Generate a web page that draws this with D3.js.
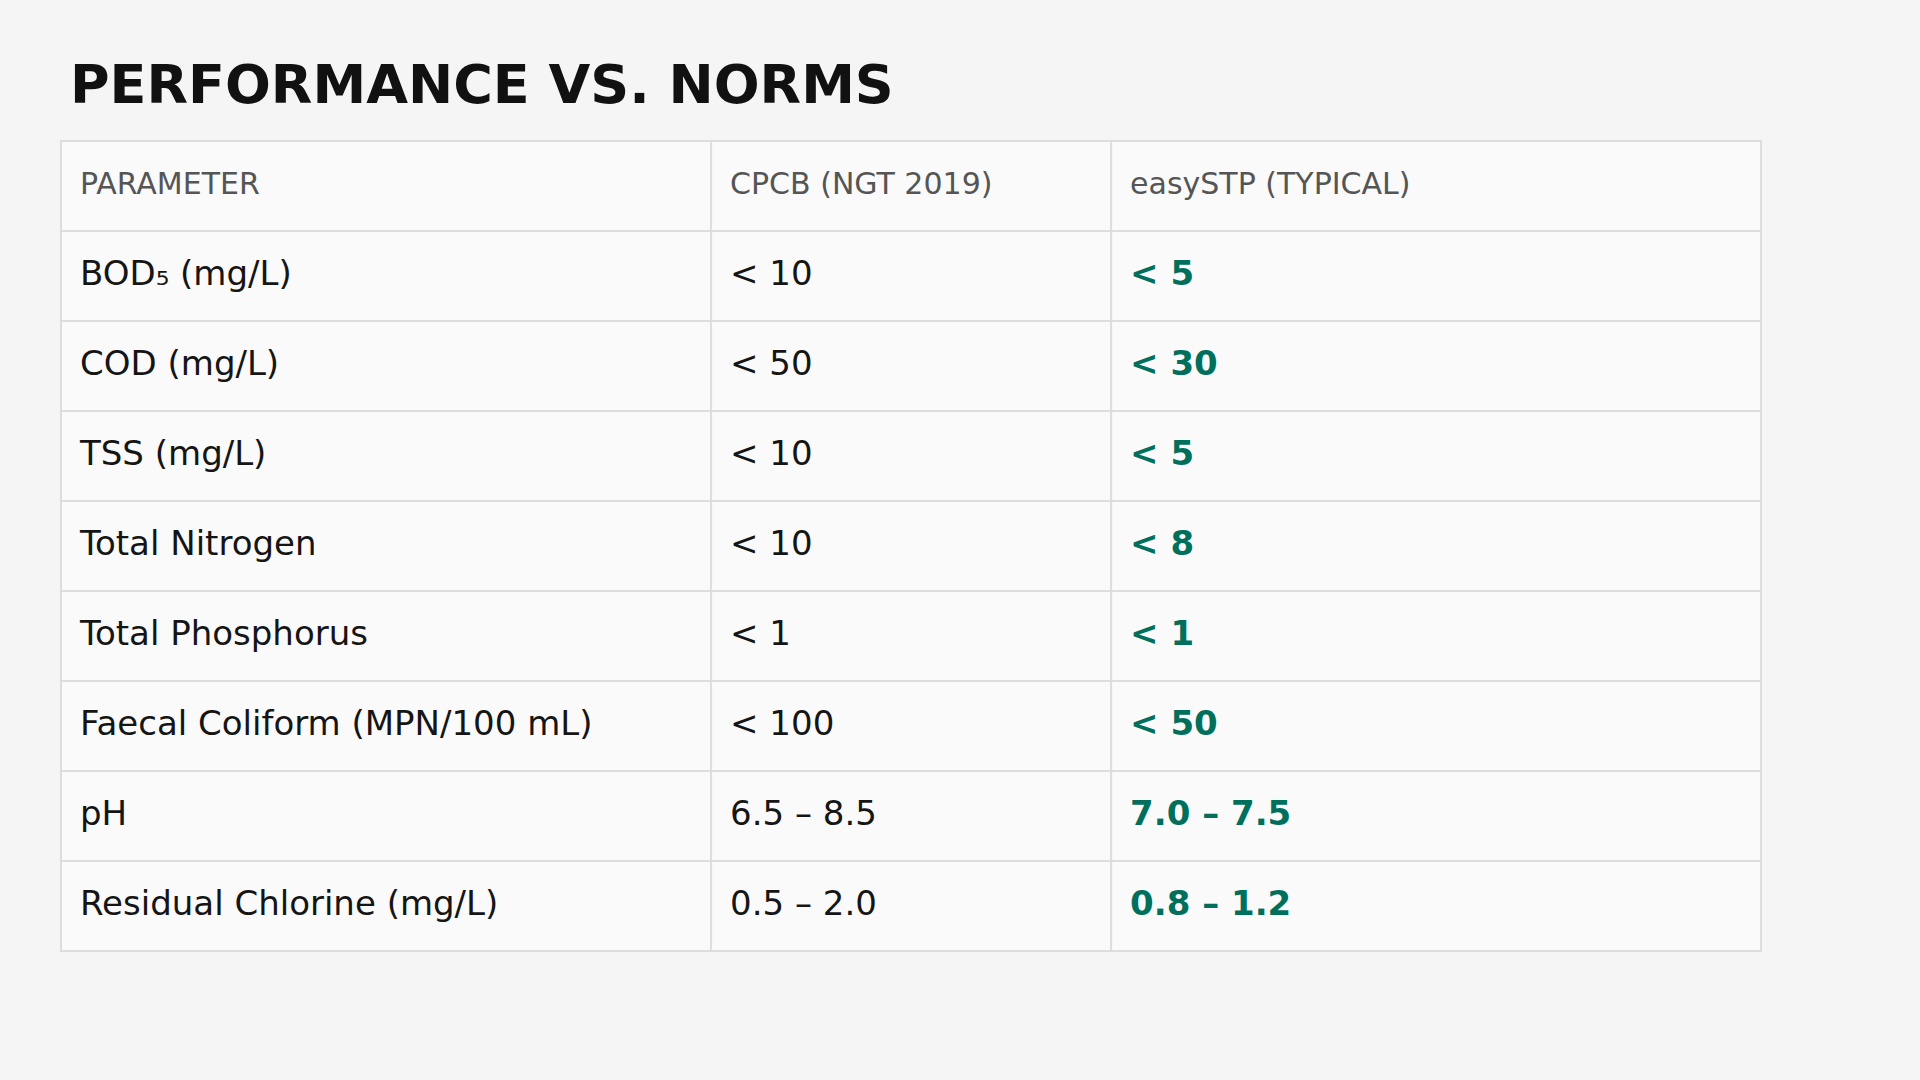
<!DOCTYPE html>
<html>
<head>
<meta charset="utf-8">
<script src="https://cdn.jsdelivr.net/npm/d3@7.9.0/dist/d3.min.js"></script>
<style>
  html, body { margin: 0; padding: 0; background: #f5f5f5; }
  svg { display: block; font-family: "DejaVu Sans", sans-serif; }
</style>
</head>
<body>
<div id="chart"></div>
<script>
// Table content
const title = "PERFORMANCE VS. NORMS";
const headers = ["PARAMETER", "CPCB (NGT 2019)", "easySTP (TYPICAL)"];
const parameters = [
  "BOD\u2085 (mg/L)", "COD (mg/L)", "TSS (mg/L)", "Total Nitrogen",
  "Total Phosphorus", "Faecal Coliform (MPN/100 mL)", "pH", "Residual Chlorine (mg/L)"
];
const cpcbNorms = ["< 10", "< 50", "< 10", "< 10", "< 1", "< 100", "6.5 \u2013 8.5", "0.5 \u2013 2.0"];
const easyStpTypical = ["< 5", "< 30", "< 5", "< 8", "< 1", "< 50", "7.0 \u2013 7.5", "0.8 \u2013 1.2"];

const width = 1920;
const height = 1080;
const table = { left: 60, top: 140, width: 1700, height: 810 };
const colFractions = [0.3824, 0.2353, 0.3823];
const pad = 20;

const svg = d3.select("#chart")
  .append("svg")
  .attr("width", width)
  .attr("height", height)
  .attr("viewBox", `0 0 ${width} ${height}`);

svg.append("rect")
  .attr("width", width).attr("height", height)
  .attr("fill", "#f5f5f5");

svg.append("text")
  .attr("x", 70)
  .attr("y", 103)
  .attr("font-size", 54)
  .attr("font-weight", "bold")
  .attr("fill", "#111")
  .text(title);

// rows: header + data rows
const rows = [headers].concat(parameters.map((p, i) => [p, cpcbNorms[i], easyStpTypical[i]]));

const y = d3.scaleBand()
  .domain(d3.range(rows.length))
  .range([table.top, table.top + table.height]);

// column left edges from cumulative widths
const colEdges = d3.cumsum([0].concat(colFractions.slice(0, -1)))
  .map(f => table.left + f * table.width);
const x = d3.scaleOrdinal().domain(d3.range(3)).range(colEdges);

svg.append("rect")
  .attr("x", table.left + 1)
  .attr("y", table.top + 1)
  .attr("width", table.width)
  .attr("height", table.height)
  .attr("fill", "#fafafa")
  .attr("stroke", "#dddddd")
  .attr("stroke-width", 2);

// horizontal row lines
svg.append("g")
  .selectAll("line")
  .data(d3.range(1, rows.length))
  .join("line")
  .attr("x1", table.left)
  .attr("x2", table.left + table.width + 2)
  .attr("y1", d => y(d) + 1)
  .attr("y2", d => y(d) + 1)
  .attr("stroke", "#dddddd")
  .attr("stroke-width", 2);

// vertical column lines
svg.append("g")
  .selectAll("line")
  .data([1, 2])
  .join("line")
  .attr("x1", d => x(d) + 1)
  .attr("x2", d => x(d) + 1)
  .attr("y1", table.top)
  .attr("y2", table.top + table.height + 2)
  .attr("stroke", "#dddddd")
  .attr("stroke-width", 2);

const rowG = svg.append("g")
  .selectAll("g")
  .data(rows)
  .join("g")
  .attr("transform", (d, i) => `translate(0, ${y(i)})`);

rowG.selectAll("text")
  .data((d, i) => d.map((v, c) => ({ v, c, header: i === 0 })))
  .join("text")
  .attr("x", d => x(d.c) + pad)
  .attr("y", d => d.header ? 53.5 : 54.5)
  .attr("font-size", d => d.header ? 30 : 34)
  .attr("font-weight", d => (!d.header && d.c === 2) ? "bold" : "normal")
  .attr("fill", d => d.header ? "#555555" : (d.c === 2 ? "#006f5c" : "#151515"))
  .text(d => d.v);
</script>
</body>
</html>
